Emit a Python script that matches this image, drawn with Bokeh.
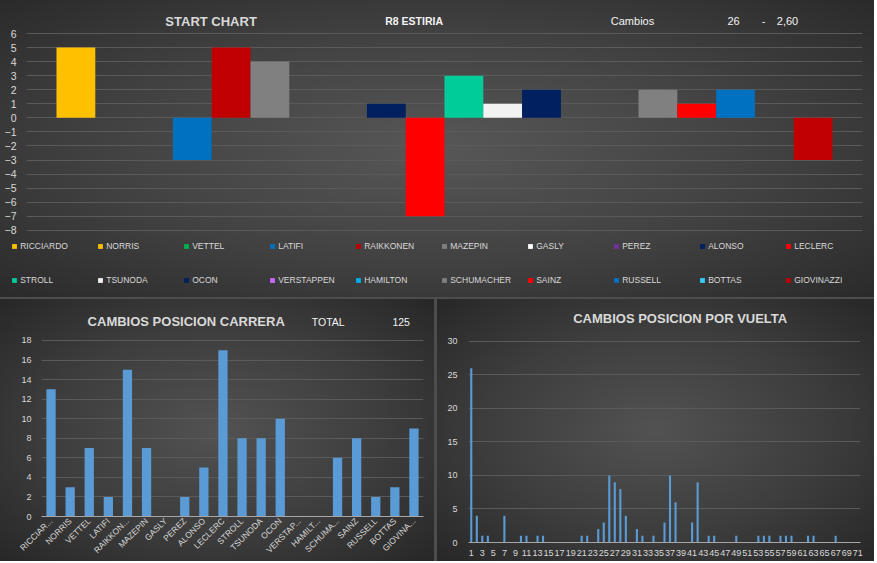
import math
from bokeh.plotting import figure
from bokeh.models import (Range1d, FactorRange, FixedTicker, Label, Legend,
                          LegendItem, ColumnDataSource)
from bokeh.layouts import column, row
from bokeh.embed import file_html
from bokeh.resources import INLINE

# ---------------- DATA ----------------
drivers = ["RICCIARDO", "NORRIS", "VETTEL", "LATIFI", "RAIKKONEN", "MAZEPIN",
           "GASLY", "PEREZ", "ALONSO", "LECLERC", "STROLL", "TSUNODA", "OCON",
           "VERSTAPPEN", "HAMILTON", "SCHUMACHER", "SAINZ", "RUSSELL",
           "BOTTAS", "GIOVINAZZI"]
start_changes = [5, 0, 0, -3, 5, 4, 0, 0, 1, -7, 3, 1, 2, 0, 0, 2, 1, 2, 0, -3]
team_colors = ["#FFC000", "#FFC000", "#00B050", "#0070C0", "#C00000", "#808080",
               "#FFFFFF", "#7030A0", "#002060", "#FF0000", "#00CC99", "#F2F2F2",
               "#002060", "#CC66FF", "#00B0F0", "#808080", "#FF0000", "#0070C0",
               "#33CCFF", "#C00000"]

carrera_labels = ["RICCIAR...", "NORRIS", "VETTEL", "LATIFI", "RAIKKON...",
                  "MAZEPIN", "GASLY", "PEREZ", "ALONSO", "LECLERC", "STROLL",
                  "TSUNODA", "OCON", "VERSTAP...", "HAMILT...", "SCHUMA...",
                  "SAINZ", "RUSSELL", "BOTTAS", "GIOVINA..."]
carrera_changes = [13, 3, 7, 2, 15, 7, 0, 2, 5, 17, 8, 8, 10, 0, 0, 6, 8, 2, 3, 9]

laps = list(range(1, 72))
lap_changes = [26, 4, 1, 1, 0, 0, 4, 0, 0, 1,
               1, 0, 1, 1, 0, 0, 0, 0, 0, 0,
               1, 1, 0, 2, 3, 10, 9, 8, 4, 0,
               2, 1, 0, 1, 0, 3, 10, 6, 0, 0,
               3, 9, 0, 1, 1, 0, 0, 0, 1, 0,
               0, 0, 1, 1, 1, 0, 1, 1, 1, 0,
               0, 1, 1, 0, 0, 0, 1, 0, 0, 0,
               0]

start_title = "START CHART"
race_name = "R8 ESTIRIA"
cambios_label = "Cambios"
cambios_value = "26"
cambios_sep = "-"
cambios_avg = "2,60"
carrera_title = "CAMBIOS POSICION CARRERA"
total_label = "TOTAL"
total_value = "125"
vuelta_title = "CAMBIOS POSICION POR VUELTA"

# ---------------- STYLE ----------------
FONT = "Liberation Sans"
TXT = "#d9d9d9"
WHITE = "#f2f2f2"
GRID = "#5a5a5a"
AXIS = "#a6a6a6"
BAR_BLUE = "#5b9bd5"


def panel_bg(c1, c2, c3):
    return {"background": f"radial-gradient(ellipse at 50% 50%, {c1} 0%, {c2} 55%, {c3} 100%)"}


def base_fig(w, h, xr, yr, fl, fr, fb, styles=None, x_axis=True, y_axis=True):
    kw = {}
    if styles:
        kw["styles"] = styles
    p = figure(width=w, height=h, x_range=xr, y_range=yr,
               output_backend="svg", toolbar_location=None,
               min_border_left=fl, min_border_right=fr,
               min_border_top=0, min_border_bottom=fb,
               x_axis_location="below" if x_axis else None,
               y_axis_location="left" if y_axis else None, **kw)
    p.frame_align = False
    p.background_fill_color = None
    p.border_fill_color = None
    p.outline_line_color = None
    p.xgrid.grid_line_color = None
    p.ygrid.grid_line_color = GRID if y_axis else None
    if y_axis:
        p.yaxis.axis_line_color = None
        p.yaxis.major_tick_line_color = None
        p.yaxis.minor_tick_line_color = None
        p.yaxis.major_tick_out = 0
        p.yaxis.major_label_text_color = TXT
        p.yaxis.major_label_text_font = FONT
    if x_axis:
        p.xaxis.axis_line_color = AXIS
        p.xaxis.major_tick_line_color = None
        p.xaxis.minor_tick_line_color = None
        p.xaxis.major_tick_out = 0
        p.xaxis.major_label_text_font = FONT
        p.xaxis.major_label_text_color = TXT
    return p


def make_mapper(p, fl, fw, fh, x0, x1, y0, y1):
    def add(px, py, text, size, bold=False, color=TXT):
        x = x0 + (px - fl) / fw * (x1 - x0)
        y = y1 - py / fh * (y1 - y0)
        p.add_layout(Label(x=x, y=y, text=text, text_align="center",
                           text_baseline="middle", text_font=FONT,
                           text_font_size=size, text_color=color,
                           text_font_style="bold" if bold else "normal"))
    return add


src1 = ColumnDataSource(dict(x=list(range(len(drivers))), top=start_changes,
                             color=team_colors, name=drivers))

# ---------------- TOP: START CHART ----------------
W1, H1, FL1, FR1 = 874, 236, 26, 12
X1 = (-1.273, 20.273)
Y1 = (-8.441, 8.348)
p1 = base_fig(W1, H1, Range1d(*X1), Range1d(*Y1), FL1, FR1, 0, x_axis=False)
p1.vbar(x="x", top="top", bottom=0, width=1.0, fill_color="color",
        line_color=None, source=src1)
p1.yaxis.ticker = FixedTicker(ticks=list(range(-8, 7)))
p1.yaxis.major_label_text_font_size = "10.5px"
p1.yaxis.major_label_standoff = 10

add1 = make_mapper(p1, FL1, W1 - FL1 - FR1, H1, X1[0], X1[1], Y1[0], Y1[1])
add1(210.6, 20.7, start_title, "13px", bold=True)
add1(413.6, 20.7, race_name, "10.5px", bold=True, color=WHITE)
add1(632.0, 20.7, cambios_label, "11px", color=WHITE)
add1(733.0, 20.7, cambios_value, "11px", color=WHITE)
add1(763.0, 20.7, cambios_sep, "11px", color=WHITE)
add1(787.0, 20.7, cambios_avg, "11px", color=WHITE)

# legend strip under the start chart
WL, HL = 874, 61
pl = base_fig(WL, HL, Range1d(0, 1), Range1d(100, 101), 0, 0, 0,
              x_axis=False, y_axis=False)
rl = pl.vbar(x="x", top="top", bottom=0, width=1.0, fill_color="color",
             line_color=None, source=src1)
for items_idx, yloc in ((range(0, 10), 44.7), (range(10, 20), 11.3)):
    items = [LegendItem(label=drivers[i], renderers=[rl], index=i) for i in items_idx]
    lg = Legend(items=items, orientation="horizontal", location=(11.2, yloc),
                glyph_width=6, glyph_height=6, label_standoff=3,
                label_width=77, label_height=12, spacing=0, padding=0,
                margin=0, border_line_color=None, background_fill_alpha=0,
                label_text_font=FONT, label_text_font_size="8.5px",
                label_text_color=TXT)
    pl.add_layout(lg)

top_panel = column(p1, pl, spacing=0,
                   styles=panel_bg("#575757", "#414141", "#2a2a2a"))

# ---------------- BOTTOM LEFT: CARRERA ----------------
W2, H2, FL2, FR2, FB2 = 434, 262, 41, 11, 45
Y2 = (0, 22.19)
p2 = base_fig(W2, H2, FactorRange(*carrera_labels), Range1d(*Y2), FL2, FR2, FB2,
              styles=panel_bg("#525252", "#3d3d3d", "#272727"))
p2.vbar(x=carrera_labels, top=carrera_changes, width=0.486,
        fill_color=BAR_BLUE, line_color=None)
p2.yaxis.ticker = FixedTicker(ticks=list(range(0, 19, 2)))
p2.yaxis.major_label_text_font_size = "9px"
p2.yaxis.major_label_standoff = 10
p2.xaxis.major_label_orientation = math.pi / 4
p2.xaxis.major_label_text_font_size = "8.5px"
p2.xaxis.major_label_standoff = 3

add2 = make_mapper(p2, FL2, W2 - FL2 - FR2, H2 - FB2, 0, len(carrera_labels), Y2[0], Y2[1])
add2(185.7, 22.0, carrera_title, "13px", bold=True)
add2(327.7, 22.0, total_label, "10.5px", color=WHITE)
add2(400.7, 22.0, total_value, "10.5px", color=WHITE)

# ---------------- BOTTOM RIGHT: POR VUELTA ----------------
W3, H3, FL3, FR3, FB3 = 437, 262, 31, 14, 19
X3 = (0.5, 71.5)
Y3 = (0, 36.26)
p3 = base_fig(W3, H3, Range1d(*X3), Range1d(*Y3), FL3, FR3, FB3,
              styles=panel_bg("#525252", "#3d3d3d", "#272727"))
p3.vbar(x=laps, top=lap_changes, width=0.38, fill_color=BAR_BLUE, line_color=None)
p3.yaxis.ticker = FixedTicker(ticks=list(range(0, 31, 5)))
p3.yaxis.major_label_text_font_size = "9px"
p3.yaxis.major_label_standoff = 11
p3.xaxis.ticker = FixedTicker(ticks=laps[::2])
p3.xaxis.major_label_text_font_size = "9px"
p3.xaxis.major_label_standoff = 7

add3 = make_mapper(p3, FL3, W3 - FL3 - FR3, H3 - FB3, X3[0], X3[1], Y3[0], Y3[1])
add3(242.7, 19.3, vuelta_title, "13px", bold=True)

layout = column(top_panel, row(p2, p3, spacing=3), spacing=2,
                styles={"background-color": "#4d4d4d"})

open("out.html", "w").write(file_html(layout, INLINE))
